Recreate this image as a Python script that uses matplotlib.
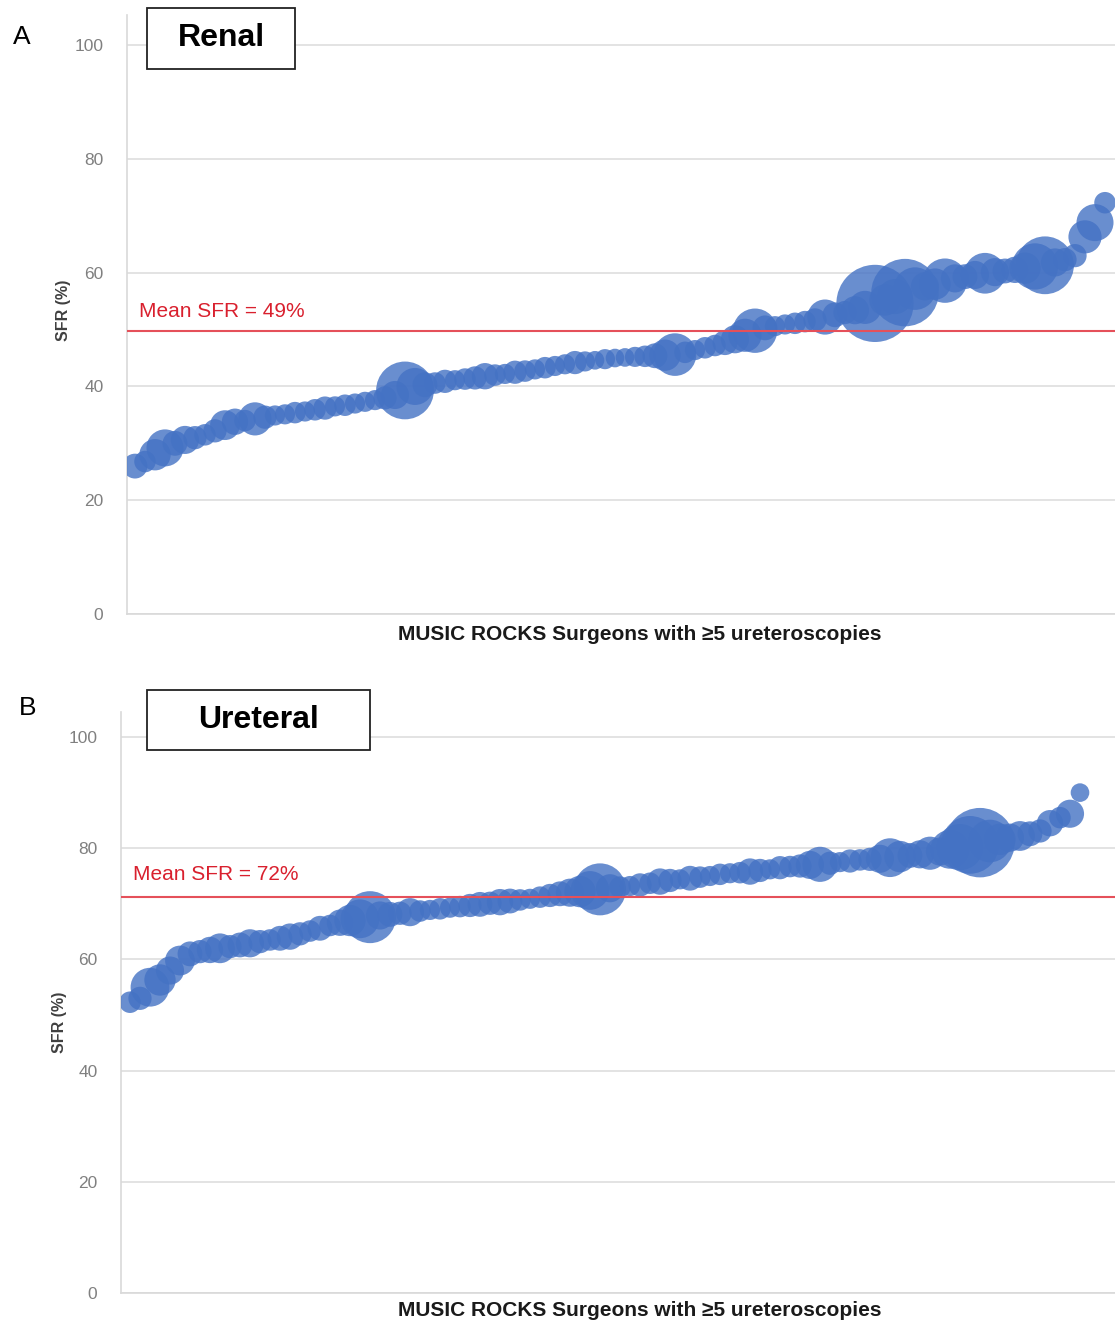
import matplotlib
matplotlib.use("Agg")
import matplotlib.pyplot as plt
from matplotlib.patches import Rectangle
import numpy as np

plt.rcParams['font.family'] = ['Liberation Sans', 'DejaVu Sans']

# Renal: SFR (%) per surgeon, sorted, and number of cases (bubble size)
renal_sfr = [26.0, 26.8, 28.0, 29.2, 30.0, 30.6, 31.0, 31.5, 32.2, 33.2,
             33.8, 34.0, 34.3, 34.6, 34.9, 35.1, 35.4, 35.6, 35.9, 36.2,
             36.5, 36.7, 37.0, 37.3, 37.6, 38.0, 38.5, 39.3, 40.0, 40.3,
             40.6, 40.9, 41.1, 41.3, 41.5, 41.8, 42.0, 42.2, 42.5, 42.7,
             43.0, 43.3, 43.6, 43.9, 44.2, 44.4, 44.6, 44.8, 45.0, 45.1,
             45.2, 45.3, 45.4, 45.5, 45.6, 46.0, 46.4, 46.8, 47.2, 47.7,
             48.3, 49.0, 49.8, 50.3, 50.6, 50.9, 51.1, 51.4, 51.7, 52.2,
             52.6, 53.0, 53.4, 53.9, 54.6, 55.2, 55.8, 56.5, 57.2, 57.6,
             58.0, 58.6, 59.0, 59.3, 59.6, 59.9, 60.1, 60.3, 60.5, 60.8,
             61.1, 61.3, 61.8, 62.3, 63.0, 66.3, 68.8, 72.3]
renal_cases = [21, 13, 40, 60, 21, 30, 17, 13, 17, 35,
               25, 13, 46, 17, 10, 10, 13, 10, 13, 17,
               10, 13, 10, 10, 10, 17, 30, 162, 60, 21,
               13, 17, 10, 13, 17, 25, 13, 10, 17, 13,
               10, 13, 10, 10, 17, 10, 7, 10, 7, 7,
               10, 13, 21, 40, 83, 13, 10, 13, 13, 21,
               30, 46, 91, 21, 10, 10, 13, 13, 17, 53,
               21, 17, 30, 46, 298, 40, 53, 225, 83, 30,
               40, 91, 30, 21, 30, 75, 30, 21, 25, 40,
               100, 162, 30, 17, 17, 46, 60, 13]

# Ureteral
ureteral_sfr = [52.3, 53.0, 55.0, 56.3, 58.0, 59.8, 61.0, 61.4, 61.7, 62.0,
                62.3, 62.6, 62.9, 63.2, 63.5, 63.8, 64.1, 64.6, 65.1, 65.6,
                66.1, 66.6, 67.0, 67.3, 67.6, 67.9, 68.1, 68.3, 68.5, 68.7,
                68.9, 69.1, 69.3, 69.5, 69.7, 69.9, 70.1, 70.3, 70.5, 70.7,
                70.9, 71.2, 71.5, 71.8, 72.0, 72.2, 72.4, 72.6, 72.8, 73.0,
                73.2, 73.4, 73.7, 74.0, 74.2, 74.4, 74.6, 74.8, 75.0, 75.3,
                75.5, 75.6, 75.8, 76.0, 76.2, 76.5, 76.7, 76.8, 77.0, 77.1,
                77.3, 77.5, 77.7, 77.9, 78.0, 78.1, 78.3, 78.5, 78.7, 78.9,
                79.1, 79.4, 79.8, 80.2, 80.6, 81.0, 81.3, 81.6, 81.9, 82.2,
                82.6, 83.1, 84.5, 85.5, 86.2, 90.0]
ureteral_cases = [13, 17, 67, 40, 30, 35, 21, 17, 25, 35,
                  17, 21, 30, 17, 13, 21, 25, 17, 13, 21,
                  13, 25, 40, 67, 129, 30, 21, 17, 30, 13,
                  10, 13, 10, 13, 17, 21, 17, 25, 21, 13,
                  10, 13, 17, 21, 30, 40, 67, 129, 30, 13,
                  10, 17, 13, 25, 17, 10, 21, 13, 10, 13,
                  10, 13, 25, 17, 10, 17, 13, 17, 30, 53,
                  17, 10, 17, 13, 17, 30, 67, 40, 21, 30,
                  46, 30, 67, 100, 162, 239, 83, 40, 30, 35,
                  21, 17, 25, 13, 30, 7]

mean_renal = 49.8
mean_ureteral = 71.2
yticks = [0, 20, 40, 60, 80, 100]
xlabel = "MUSIC ROCKS Surgeons with \u22655 ureteroscopies"

W, H = 1115, 1324
fig = plt.figure(figsize=(W / 100, H / 100), dpi=100)


def panel(rect, sfr, cases, mean, mean_txt, xlim, ytop, txt_gap, ylab_pos):
    ax = fig.add_axes(rect)
    x = np.arange(len(sfr))
    sizes = np.array(cases) * 10 + 110   # small surgeons still get a visible bubble
    ax.scatter(x, sfr, s=sizes, color='#4472C4', alpha=0.8,
               linewidths=0, zorder=3)
    ax.axhline(mean, color='#e5505a', lw=1.5, zorder=4)
    ax.text(xlim[0] + 1.2, mean + txt_gap, mean_txt, color='#d9202e',
            fontsize=15, va='bottom', ha='left', zorder=5)
    ax.set_xlim(*xlim)
    ax.set_ylim(0, ytop)
    ax.set_yticks(yticks)
    ax.set_xticks([])
    ax.grid(axis='y', color='#dedede', lw=1.2, zorder=0)
    ax.tick_params(axis='y', length=0, pad=17, labelsize=12.5,
                   labelcolor='#808080')
    for sp in ['top', 'right']:
        ax.spines[sp].set_visible(False)
    for sp in ['left', 'bottom']:
        ax.spines[sp].set_color('#d9d9d9')
        ax.spines[sp].set_linewidth(1.2)
    ax.set_ylabel("SFR (%)", fontsize=11.5, fontweight='bold', color='#404040')
    ax.yaxis.set_label_coords(*ylab_pos)
    return ax


# panel A (pixel layout: axis left 127, bottom 614, top 15)
panel([127 / W, 1 - 614 / H, 1 - 127 / W, 599 / H], renal_sfr, renal_cases,
      mean_renal, "Mean SFR = 49%", (-0.8, 98), 105.3, 1.7, (-0.057, 0.507))
# panel B (axis left 121, bottom 1293, top 712)
panel([121 / W, 1 - 1293 / H, 1 - 121 / W, 581 / H], ureteral_sfr,
      ureteral_cases, mean_ureteral, "Mean SFR = 72%", (-0.9, 98.5), 104.5,
      2.4, (-0.054, 0.466))

# title boxes
for (x0, y0, x1, y1, label) in [(147, 8, 295, 69, "Renal"),
                                (147, 690, 370, 750, "Ureteral")]:
    fig.add_artist(Rectangle((x0 / W, 1 - y1 / H), (x1 - x0) / W, (y1 - y0) / H,
                             transform=fig.transFigure, facecolor='white',
                             edgecolor='#222222', lw=1.3, zorder=10))
    fig.text((x0 + x1) / 2 / W, 1 - (y0 + y1) / 2 / H, label, fontsize=23,
             fontweight='bold', ha='center', va='center', zorder=11)

fig.text(22 / W, 1 - 37 / H, "A", fontsize=19, ha='center', va='center')
fig.text(28 / W, 1 - 708 / H, "B", fontsize=19, ha='center', va='center')

fig.text(640 / W, 1 - 635 / H, xlabel, fontsize=15, fontweight='bold',
         ha='center', va='center', color='#1a1a1a')
fig.text(640 / W, 1 - 1311 / H, xlabel, fontsize=15, fontweight='bold',
         ha='center', va='center', color='#1a1a1a')

fig.savefig('out.png', dpi=100)
